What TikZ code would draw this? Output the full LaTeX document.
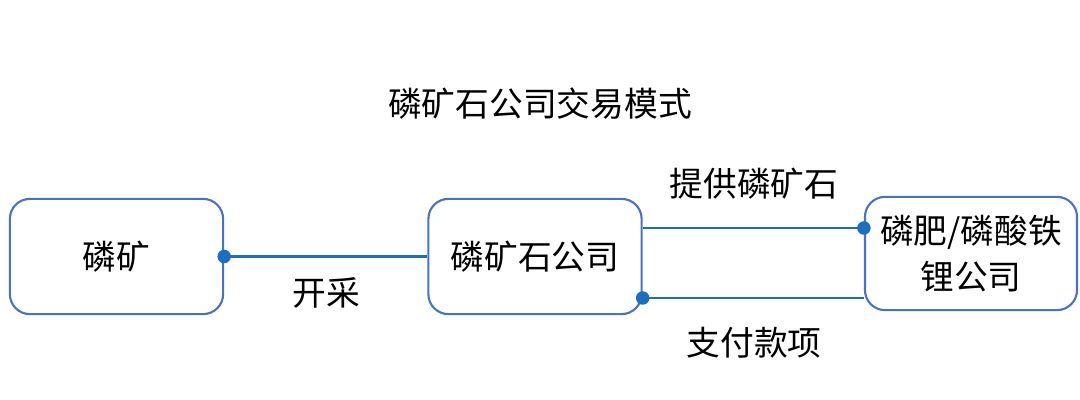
\documentclass[tikz,border=0pt]{standalone}
\usepackage{fontspec}
\setmainfont{Noto Sans CJK SC}
\definecolor{boxblue}{HTML}{4A72BE}
\definecolor{lineblue}{HTML}{1E6EBE}
\tikzset{
  firm/.style={draw=boxblue, line width=1.5pt, rounded corners=0.5cm,
    minimum width=5.33cm, minimum height=2.88cm, align=center, inner sep=0pt},
  link/.style={draw=lineblue, line width=1.8pt},
  joint/.style={fill=lineblue}
}

\begin{document}
\begin{tikzpicture}[x=0.025cm, y=-0.025cm, font=\fontsize{24}{33}\selectfont]
  \useasboundingbox (0,0) rectangle (1080,400);
  \node (title) at (540,104) {磷矿石公司交易模式};
  % boxes
  \node[firm] (mine) at (116.5,256.5) {磷矿};
  \node[firm] (ore) at (535,256.5) {磷矿石公司};
  \node[firm, minimum width=5.3cm, minimum height=2.83cm] (buyer) at (971,253.5) {磷肥/磷酸铁\\锂公司};
  % mine -> ore company
  \coordinate (up) at (0,228);
  \coordinate (down) at (0,298);
  \draw[link] (mine.east) -- (ore.west);
  \fill[joint] (mine.east) circle (4.8pt);
  \node (dig) at (326,293) {开采};
  % ore company -> buyer
  \draw[link] (ore.east |- up) -- (buyer.west |- up);
  \fill[joint] (buyer.west |- up) circle (4.8pt);
  \node (supply) at (754,184) {提供磷矿石};
  % buyer -> ore company
  \draw[link] (buyer.west |- down) -- (ore.east |- down);
  \fill[joint] (ore.east |- down) circle (4.8pt);
  \node (pay) at (754,343) {支付款项};
\end{tikzpicture}
\end{document}
